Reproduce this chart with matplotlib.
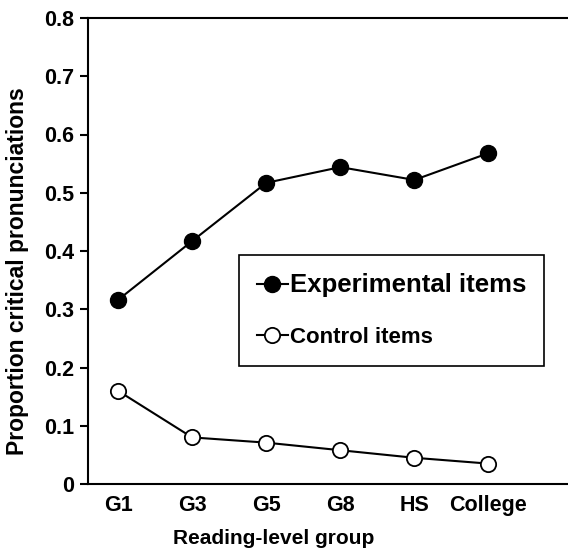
import matplotlib
matplotlib.use('Agg')
import matplotlib.pyplot as plt

groups = ['G1', 'G3', 'G5', 'G8', 'HS', 'College']
experimental = [0.316, 0.417, 0.517, 0.544, 0.522, 0.568]
control = [0.160, 0.080, 0.071, 0.058, 0.045, 0.035]
y_ticks = [0, 0.1, 0.2, 0.3, 0.4, 0.5, 0.6, 0.7, 0.8]
y_tick_labels = ['0', '0.1', '0.2', '0.3', '0.4', '0.5', '0.6', '0.7', '0.8']

plt.rcParams['font.family'] = ['Liberation Sans', 'DejaVu Sans']
plt.rcParams['font.weight'] = 'bold'

fig = plt.figure(figsize=(5.68, 5.52), dpi=100)
ax_w = 1 - 88/568 + 0.01
ax = fig.add_axes([88/568, 1-484/552, ax_w, (484-18)/552])
ax_wpx = ax_w * 568

x = list(range(1, len(groups)+1))
ax.plot(x, experimental, '-o', color='black', lw=1.5, ms=11.5,
        mfc='black', mec='black', label='Experimental items')
ax.plot(x, control, '-o', color='black', lw=1.5, ms=11,
        mfc='white', mec='black', mew=1.3, label='Control items')

ax.set_xlim(0.595, 7.15)
ax.set_ylim(0, 0.8)
ax.set_xticks(x)
ax.set_xticklabels(groups, fontsize=15.5, fontweight='bold')
ax.set_yticks(y_ticks)
ax.set_yticklabels(y_tick_labels, fontsize=15.5, fontweight='bold')
ax.tick_params(axis='x', length=0, pad=8)
ax.tick_params(axis='y', direction='out', length=6, width=1.5, pad=4)
for s in ['left', 'bottom', 'top']:
    ax.spines[s].set_linewidth(1.5)
ax.spines['right'].set_visible(False)

ax.set_xlabel('Reading-level group', fontsize=15, fontweight='bold')
ax.set_ylabel('Proportion critical pronunciations', fontsize=16.5, fontweight='bold')
ax.xaxis.set_label_coords((274-88)/ax_wpx, (484-529)/466)
ax.yaxis.set_label_coords((29-88)/ax_wpx, (484-271)/466)

leg = ax.legend(loc='upper left', bbox_to_anchor=((239-88)/ax_wpx, (484-255)/466),
                frameon=True, fancybox=False, edgecolor='black', framealpha=1,
                borderpad=0.8, labelspacing=1.35, handlelength=1.4,
                handletextpad=0.1, borderaxespad=0,
                prop={'size': 16, 'weight': 'bold'})
leg.get_frame().set_linewidth(1.2)
texts = leg.get_texts()
texts[0].set_fontsize(18.5)
texts[1].set_fontsize(16)

fig.savefig('out.png', dpi=100)
